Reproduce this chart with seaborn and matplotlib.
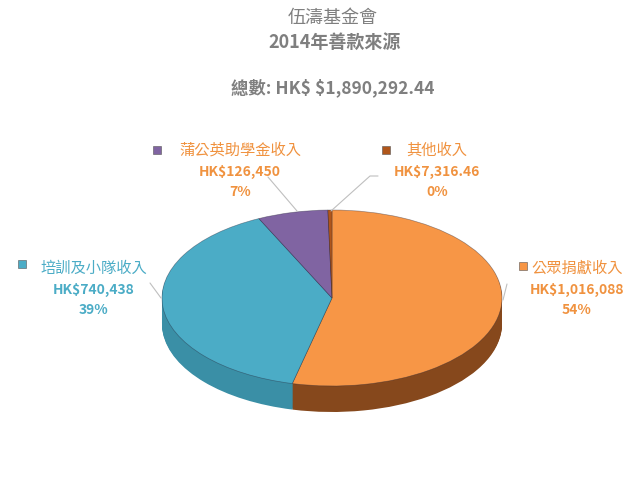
import matplotlib.pyplot as plt
import seaborn as sns
from matplotlib.lines import Line2D
from matplotlib.patches import Rectangle

categories = ["公眾捐獻收入", "培訓及小隊收入", "蒲公英助學金收入", "其他收入"]
amounts = [1016088, 740438, 126450, 7316.46]
amount_labels = ["HK$1,016,088", "HK$740,438", "HK$126,450", "HK$7,316.46"]
title_lines = ["伍濤基金會", "2014年善款來源"]
total_label = "總數: HK$ $1,890,292.44"

top_colors = ["#F79646", "#4BACC6", "#8064A2", "#B0561A"]
side_colors = ["#86481C", "#3A8FA6", "#5B4679", "#6E3410"]
text_colors = ["#F0923F", "#4BACC6", "#F0923F", "#F0923F"]

sns.set_theme(style="white")
plt.rcParams["font.family"] = ["Noto Sans CJK TC", "DejaVu Sans"]
plt.rcParams["text.parse_math"] = False

W, H = 640, 480
fig = plt.figure(figsize=(6.4, 4.8), dpi=100)
ax = fig.add_axes([0, 0, 1, 1])

# ellipse geometry in pixels (pie drawn as unit circle, squashed by the limits)
cx, cy, rx, ry, depth = 332, 298, 170, 88, 26
layers = 30
for k in range(layers, 0, -1):
    ax.pie(amounts, colors=side_colors, startangle=90, counterclock=False,
           center=(0, -k * depth / ry / layers),
           wedgeprops=dict(linewidth=0))
ax.pie(amounts, colors=top_colors, startangle=90, counterclock=False,
       wedgeprops=dict(linewidth=0.5, edgecolor=(0.15, 0.15, 0.22, 0.45)))
ax.set_aspect("auto")
ax.set_xlim(-cx / rx, (W - cx) / rx)
ax.set_ylim((cy - H) / ry, cy / ry)
ax.axis("off")


def fx(x):
    return x / W


def fy(y):
    return 1 - y / H


# titles
grey = "#7F7F7F"
fig.text(fx(333), fy(18), title_lines[0], ha="center", va="center",
         fontsize=13, color=grey)
fig.text(fx(335), fy(42), title_lines[1], ha="center", va="center",
         fontsize=13, color=grey, fontweight="bold")
fig.text(fx(333), fy(88), total_label, ha="center", va="center",
         fontsize=12.5, color=grey, fontweight="bold")

# label layout: name centre, marker position, leader line
total = sum(amounts)
label_xy = [(577, 268), (94, 268), (240, 150), (437, 150)]
marker_xy = [(523, 266), (22, 264), (157, 150), (386, 150)]
leaders = [[(507, 284), (503, 300)],
           [(150, 283), (161, 298)],
           [(268, 177), (297, 211)],
           [(378, 176), (370, 176), (331, 211)]]

for i, name in enumerate(categories):
    x, y = label_xy[i]
    c = text_colors[i]
    fig.text(fx(x), fy(y), name, ha="center", va="center", fontsize=11, color=c)
    fig.text(fx(x), fy(y + 22), amount_labels[i], ha="center", va="center",
             fontsize=10, color=c, fontweight="bold")
    pct = round(amounts[i] / total * 100)
    fig.text(fx(x), fy(y + 42), f"{pct}%", ha="center", va="center",
             fontsize=10, color=c, fontweight="bold")
    mx, my = marker_xy[i]
    fig.add_artist(Rectangle((fx(mx - 4), fy(my + 4)), 8 / W, 8 / H,
                             transform=fig.transFigure, color=top_colors[i],
                             ec="#555555", lw=0.4))
    pts = leaders[i]
    fig.add_artist(Line2D([fx(p[0]) for p in pts], [fy(p[1]) for p in pts],
                          transform=fig.transFigure, color="#BFBFBF", lw=0.8))

fig.savefig("out.png", dpi=100)
